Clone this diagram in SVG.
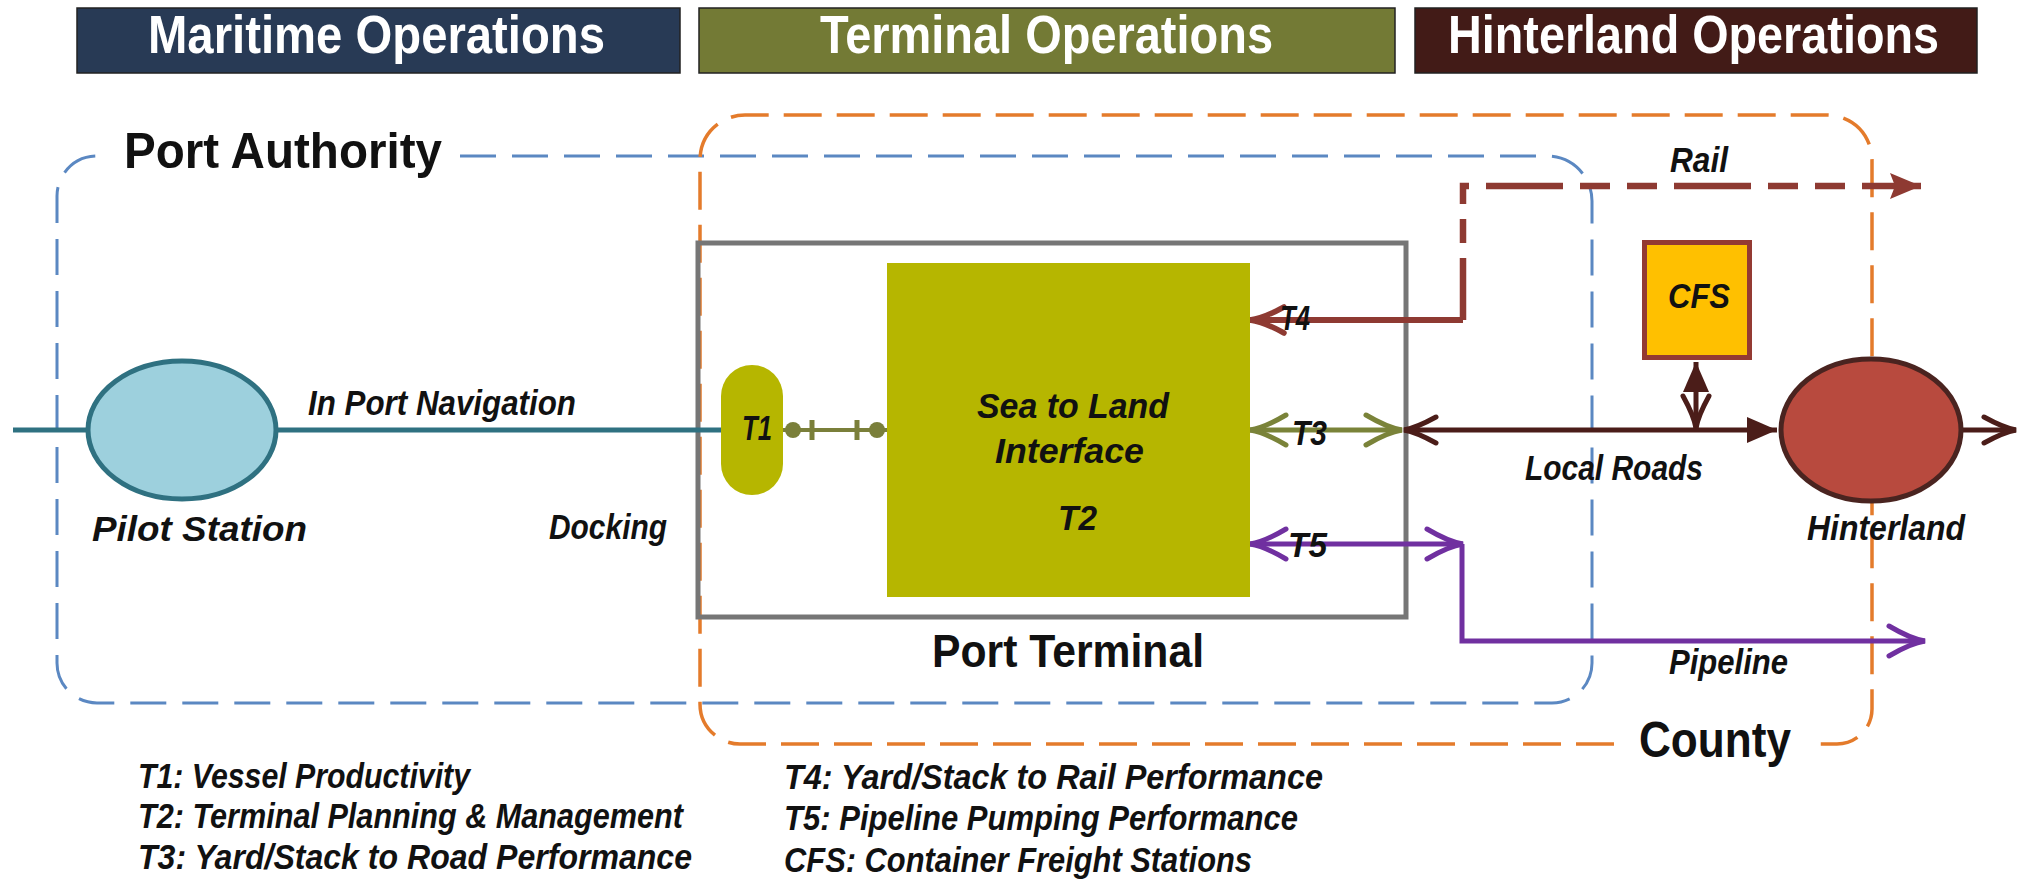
<svg xmlns="http://www.w3.org/2000/svg" width="2021" height="879" viewBox="0 0 2021 879">
<style>
text{font-family:"Liberation Sans Narrow","Liberation Sans",Arial,sans-serif;fill:#111;font-weight:bold}
.hdr{font-size:53px;fill:#fff}
.big{font-size:50px}
.it{font-style:italic;font-size:35px}
.leg{font-style:italic;font-size:35px}
.hbox{stroke:#222;stroke-width:1.5}
</style>
<defs>
<marker id="vOlive" viewBox="-42 -20 46 40" refX="0" refY="0" markerWidth="46" markerHeight="40" markerUnits="userSpaceOnUse" orient="auto-start-reverse">
<path d="M-36,-15 Q-14,-2 0,0 Q-14,2 -36,15" fill="none" stroke="#7A8339" stroke-width="5" stroke-linecap="round"/>
</marker>
<marker id="vRail" viewBox="-42 -20 46 40" refX="0" refY="0" markerWidth="46" markerHeight="40" markerUnits="userSpaceOnUse" orient="auto-start-reverse">
<path d="M-34,-13 Q-14,-2 0,0 Q-14,2 -34,13" fill="none" stroke="#8E3A32" stroke-width="5.5" stroke-linecap="round"/>
</marker>
<marker id="vDark" viewBox="-42 -20 46 40" refX="0" refY="0" markerWidth="46" markerHeight="40" markerUnits="userSpaceOnUse" orient="auto-start-reverse">
<path d="M-32,-13 Q-12,-2 0,0 Q-12,2 -32,13" fill="none" stroke="#4B1D19" stroke-width="5" stroke-linecap="round"/>
</marker>
<marker id="vPurple" viewBox="-42 -20 46 40" refX="0" refY="0" markerWidth="46" markerHeight="40" markerUnits="userSpaceOnUse" orient="auto-start-reverse">
<path d="M-36,-15 Q-14,-2 0,0 Q-14,2 -36,15" fill="none" stroke="#7030A0" stroke-width="5" stroke-linecap="round"/>
</marker>
<marker id="fDark" viewBox="-34 -16 36 32" refX="0" refY="0" markerWidth="36" markerHeight="32" markerUnits="userSpaceOnUse" orient="auto-start-reverse">
<path d="M-30,-13 L0,0 L-30,13 Z" fill="#4B1D19"/>
</marker>
<marker id="fRail" viewBox="-34 -16 36 32" refX="0" refY="0" markerWidth="36" markerHeight="32" markerUnits="userSpaceOnUse" orient="auto">
<path d="M-31,-13 L0,0 L-31,13 L-26,0 Z" fill="#8E3A32"/>
</marker>
</defs>

<g id="headers">
<g id="hdr-maritime"><rect class="hbox" x="77" y="8" width="603" height="65" fill="#283A55"/><text class="hdr" x="148" y="53" textLength="457" lengthAdjust="spacingAndGlyphs">Maritime Operations</text></g>
<g id="hdr-terminal"><rect class="hbox" x="699" y="8" width="696" height="65" fill="#737A35"/><text class="hdr" x="820" y="53" textLength="453" lengthAdjust="spacingAndGlyphs">Terminal Operations</text></g>
<g id="hdr-hinterland"><rect class="hbox" x="1415" y="8" width="562" height="65" fill="#421B17"/><text class="hdr" x="1448" y="53" textLength="491" lengthAdjust="spacingAndGlyphs">Hinterland Operations</text></g>
</g>

<g id="port-authority">
<path d="M460,156 H1547 A45,45 0 0 1 1592,201 V663 A40,40 0 0 1 1552,703 H97 A40,40 0 0 1 57,663 V196 A40,40 0 0 1 97,156" fill="none" stroke="#5B88C2" stroke-width="3" stroke-dasharray="36 16"/>
<text class="big" x="124" y="168" textLength="318" lengthAdjust="spacingAndGlyphs">Port Authority</text>
</g>

<g id="county">
<path d="M1614,744 H740 A40,40 0 0 1 700,704 V160 A45,45 0 0 1 745,115 H1827 A45,45 0 0 1 1872,160 V709 A35,35 0 0 1 1837,744 H1818" fill="none" stroke="#E47B2B" stroke-width="3.5" stroke-dasharray="38 15"/>
<text class="big" x="1639" y="757" textLength="152" lengthAdjust="spacingAndGlyphs">County</text>
</g>

<g id="port-terminal">
<rect x="698" y="243" width="708" height="374" fill="none" stroke="#767676" stroke-width="5"/>
<text x="932" y="667" font-size="47" textLength="272" lengthAdjust="spacingAndGlyphs">Port Terminal</text>
</g>

<g id="connectors">
<line x1="13" y1="430" x2="721" y2="430" stroke="#2F7181" stroke-width="5"/>
<g id="t1-t2" stroke="#7A7F3A" fill="#7A7F3A">
<line x1="783" y1="430" x2="887" y2="430" stroke-width="4"/>
<circle cx="793" cy="430" r="8" stroke="none"/>
<circle cx="877" cy="430" r="8" stroke="none"/>
<line x1="812" y1="420" x2="812" y2="440" stroke-width="5"/>
<line x1="857" y1="420" x2="857" y2="440" stroke-width="5"/>
</g>
<path d="M1463,320 H1250" fill="none" stroke="#8E3A32" stroke-width="6" marker-end="url(#vRail)"/>
<path d="M1463,320 V186 H1921" fill="none" stroke="#8E3A32" stroke-width="6.5" stroke-dasharray="62 15 24 15 24 17 77 17 30 17 30 17 77 17 30 17 30 17 77 17" marker-end="url(#fRail)"/>
<path d="M1250,430 H1402" fill="none" stroke="#7A8339" stroke-width="5" marker-start="url(#vOlive)" marker-end="url(#vOlive)"/>
<path d="M1404,430 H1777" fill="none" stroke="#4B1D19" stroke-width="5" marker-start="url(#vDark)" marker-end="url(#fDark)"/>
<path d="M1696,428 V362" fill="none" stroke="#4B1D19" stroke-width="5" marker-start="url(#vDark)" marker-end="url(#fDark)"/>
<path d="M1963,430 H2016" fill="none" stroke="#4B1D19" stroke-width="5" marker-end="url(#vDark)"/>
<path d="M1250,544 H1463" fill="none" stroke="#7030A0" stroke-width="5" marker-start="url(#vPurple)" marker-end="url(#vPurple)"/>
<path d="M1462,544 V641 H1925" fill="none" stroke="#7030A0" stroke-width="5" marker-end="url(#vPurple)"/>
<text class="it" x="308" y="415" textLength="268" lengthAdjust="spacingAndGlyphs">In Port Navigation</text>
<text class="it" x="549" y="539" textLength="118" lengthAdjust="spacingAndGlyphs">Docking</text>
<text class="it" x="1280" y="330" font-size="34" textLength="30" lengthAdjust="spacingAndGlyphs">T4</text>
<text class="it" x="1292" y="445" font-size="34" textLength="35" lengthAdjust="spacingAndGlyphs">T3</text>
<text class="it" x="1288" y="557" font-size="34" textLength="39" lengthAdjust="spacingAndGlyphs">T5</text>
<text class="it" x="1670" y="172" font-size="34" textLength="58" lengthAdjust="spacingAndGlyphs">Rail</text>
<text class="it" x="1525" y="480" textLength="178" lengthAdjust="spacingAndGlyphs">Local Roads</text>
<text class="it" x="1669" y="674" font-size="33" textLength="119" lengthAdjust="spacingAndGlyphs">Pipeline</text>
</g>

<g id="pilot-station">
<ellipse cx="182" cy="430" rx="94" ry="69" fill="#9DD0DD" stroke="#2F7181" stroke-width="5"/>
<text class="it" x="92" y="541" textLength="215" lengthAdjust="spacingAndGlyphs">Pilot Station</text>
</g>

<g id="t1">
<rect x="721" y="365" width="62" height="130" rx="31" ry="31" fill="#B6B600"/>
<text class="it" x="742" y="440" textLength="30" lengthAdjust="spacingAndGlyphs">T1</text>
</g>

<g id="t2">
<rect x="887" y="263" width="363" height="334" fill="#B6B600"/>
<text class="it" x="977" y="418" textLength="192" lengthAdjust="spacingAndGlyphs">Sea to Land</text>
<text class="it" x="995" y="463" textLength="149" lengthAdjust="spacingAndGlyphs">Interface</text>
<text class="it" x="1058" y="530" textLength="39" lengthAdjust="spacingAndGlyphs">T2</text>
</g>

<g id="cfs">
<rect x="1644.5" y="242.5" width="105" height="115" fill="#FFC000" stroke="#943A33" stroke-width="5"/>
<text class="it" x="1668" y="308" font-size="34" textLength="62" lengthAdjust="spacingAndGlyphs">CFS</text>
</g>

<g id="hinterland">
<ellipse cx="1871" cy="430" rx="90" ry="71" fill="#B84A3E" stroke="#4A2420" stroke-width="5"/>
<text class="it" x="1807" y="540" font-size="32" textLength="158" lengthAdjust="spacingAndGlyphs">Hinterland</text>
</g>

<g id="legend">
<text class="leg" x="138" y="788" textLength="332" lengthAdjust="spacingAndGlyphs">T1: Vessel Productivity</text>
<text class="leg" x="138" y="828" textLength="545" lengthAdjust="spacingAndGlyphs">T2: Terminal Planning &amp; Management</text>
<text class="leg" x="138" y="869" textLength="554" lengthAdjust="spacingAndGlyphs">T3: Yard/Stack to Road Performance</text>
<text class="leg" x="784" y="789" textLength="539" lengthAdjust="spacingAndGlyphs">T4: Yard/Stack to Rail Performance</text>
<text class="leg" x="784" y="830" textLength="514" lengthAdjust="spacingAndGlyphs">T5: Pipeline Pumping Performance</text>
<text class="leg" x="784" y="872" textLength="468" lengthAdjust="spacingAndGlyphs">CFS: Container Freight Stations</text>
</g>
</svg>
